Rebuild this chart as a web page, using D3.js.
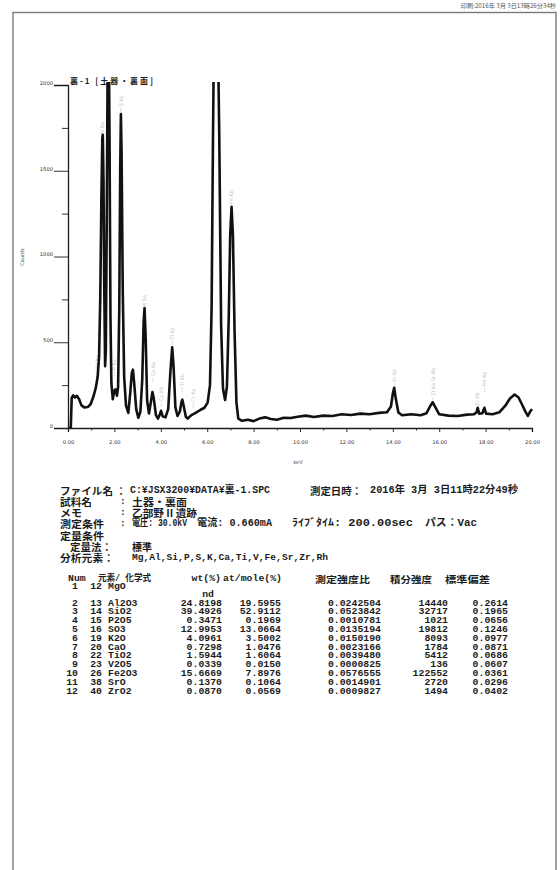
<!DOCTYPE html>
<html><head><meta charset="utf-8">
<script src="https://cdn.jsdelivr.net/npm/d3@7"></script>
<style>body{margin:0;background:#fff}</style>
</head><body>
<svg id="c" width="560" height="870"></svg>
<script>
// ---------- data ----------
const spectrumKeV = [0.00,0.12,0.16,0.22,0.30,0.38,0.48,0.58,0.70,0.85,0.98,1.10,1.20,1.28,1.34,1.39,1.44,1.48,1.50,1.53,1.56,1.60,1.63,1.67,1.71,1.75,1.79,1.83,1.87,1.93,1.99,2.04,2.11,2.16,2.21,2.25,2.28,2.31,2.36,2.42,2.50,2.60,2.68,2.75,2.80,2.86,2.94,3.03,3.12,3.20,3.26,3.30,3.35,3.41,3.49,3.57,3.64,3.70,3.79,3.88,3.96,4.01,4.08,4.20,4.32,4.41,4.49,4.55,4.63,4.72,4.82,4.89,4.93,4.99,5.08,5.16,5.32,5.50,5.70,5.88,6.02,6.12,6.19,6.25,6.30,6.45,6.52,6.60,6.68,6.77,6.85,6.93,6.99,7.05,7.11,7.18,7.26,7.34,7.50,7.75,8.00,8.25,8.50,8.75,9.00,9.30,9.60,9.90,10.25,10.60,11.00,11.40,11.80,12.20,12.60,13.00,13.40,13.75,13.92,14.00,14.06,14.13,14.24,14.40,14.80,15.20,15.45,15.60,15.72,15.85,16.00,16.40,16.80,17.20,17.50,17.61,17.66,17.72,17.86,17.95,18.02,18.30,18.60,18.85,19.05,19.25,19.42,19.56,19.70,19.82,19.92,20.00];
const spectrumCounts = [0,0,175,190,178,188,168,132,120,122,140,185,235,300,420,750,1350,1690,1710,1450,850,360,450,1200,2150,2400,1700,650,260,168,215,225,188,240,700,1500,1830,1600,800,300,130,88,200,320,340,250,110,60,95,280,620,700,520,160,85,150,210,170,75,55,80,100,68,62,110,320,470,360,120,70,95,150,165,125,65,55,75,88,105,118,148,250,700,1700,2400,2400,1700,600,230,163,240,650,1120,1290,1120,560,150,55,42,48,40,55,62,52,48,60,58,66,72,64,72,70,80,76,84,80,88,92,125,200,235,170,90,74,80,74,86,125,150,118,80,72,70,78,80,92,118,84,86,118,84,80,92,130,172,195,178,140,100,70,96,110];

const yTicks = [0, 500, 1000, 1500, 2000];
const yMinorTicks = [250, 750, 1250, 1750];
const xTicks = [0, 2, 4, 6, 8, 10, 12, 14, 16, 18, 20];
const xMinorTicks = [1, 3, 5, 7, 9, 11, 13, 15, 17, 19];

const peakNames = ["Mg Ka","Al Ka","P Ka","S Ka","K Ka","Ca Ka","Ca Kb","Ti Ka","Ti Kb","Cr Ka","Fe Kb","Sr Ka","Zr Ka Sr Kb","Zr Kb","Rh Ka"];
const peakKeV   = [1.25,1.49,2.01,2.28,3.30,3.66,4.01,4.50,4.93,5.40,7.06,14.08,15.73,17.66,17.95];
const peakLabelBase = [326,1700,326,1865,700,290,145,505,233,140,1294,257,175,117,233];

const chartTitle = "裏-1 [土器・裏面]";
const printStamp = "印刷:2016年 3月 3日13時26分34秒";

// table
const rowNum = ["1","2","3","4","5","6","7","8","9","10","11","12"];
const atomicNo = ["12","13","14","15","16","19","20","22","23","26","38","40"];
const compound = ["MgO","Al2O3","SiO2","P2O5","SO3","K2O","CaO","TiO2","V2O5","Fe2O3","SrO","ZrO2"];
const wtPct = ["nd","24.8198","39.4926","0.3471","12.9953","4.0961","0.7298","1.5944","0.0339","15.6669","0.1370","0.0870"];
const atMole = ["","19.5955","52.9112","0.1969","13.0664","3.5002","1.0476","1.6064","0.0150","7.8976","0.1064","0.0569"];
const intensityRatio = ["","0.0242504","0.0523842","0.0010781","0.0135194","0.0150190","0.0023166","0.0039480","0.0000825","0.0576555","0.0014901","0.0009827"];
const integralIntensity = ["","14440","32717","1021","19812","8093","1784","5412","136","122552","2720","1494"];
const stdDev = ["","0.2614","0.1965","0.0656","0.1246","0.0977","0.0871","0.0686","0.0607","0.0361","0.0296","0.0402"];

// ---------- drawing ----------
const svg = d3.select("#c");
const JP = "'Noto Sans CJK JP', sans-serif";
const MONO = "'Liberation Mono', 'DejaVu Sans Mono', 'Noto Sans CJK JP', monospace";
const INK = "#1c1c1c";

svg.append("rect").attr("width",560).attr("height",870).attr("fill","#fff");
svg.append("rect").attr("x",13).attr("y",12.5).attr("width",543).attr("height",880)
  .attr("fill","none").attr("stroke","#7a7a7a").attr("stroke-width",1.4);
svg.append("text").attr("x",556).attr("y",8).attr("text-anchor","end")
  .attr("font-family",JP).attr("font-size",6.2).attr("fill","#555").text(printStamp);

const x = d3.scaleLinear().domain([0,20]).range([68,532]);
const y = d3.scaleLinear().domain([0,2000]).range([428,85]);

svg.append("defs").append("clipPath").attr("id","clip")
  .append("rect").attr("x",66).attr("y",82).attr("width",470).attr("height",347);

// peak labels (faint)
const pl = svg.append("g").attr("fill","#c4c4c4").attr("font-family","'DejaVu Sans', sans-serif").attr("font-size",5);
peakNames.forEach((n,i)=>{
  const px = x(peakKeV[i]), py = y(peakLabelBase[i]) - 2;
  pl.append("text").attr("transform",`translate(${px+1.7},${py}) rotate(-90)`).text(n);
  pl.append("line").attr("x1",px).attr("x2",px).attr("y1",py+1).attr("y2",py+6)
    .attr("stroke","#cfcfcf").attr("stroke-width",0.7);
});

// spectrum
const pts = spectrumKeV.map((k,i)=>[k, spectrumCounts[i]]);
svg.append("path").datum(pts).attr("clip-path","url(#clip)")
  .attr("fill","none").attr("stroke","#111").attr("stroke-width",2.6).attr("stroke-linejoin","round")
  .attr("d", d3.line().x(d=>x(d[0])).y(d=>y(d[1])));

// axes
const yAx = svg.append("g").attr("transform","translate(68,0)")
  .call(d3.axisLeft(y).tickValues(yTicks).tickSize(14).tickPadding(1).tickFormat(d3.format("d")));
svg.append("g").attr("transform","translate(68,0)")
  .call(d3.axisLeft(y).tickValues(yMinorTicks).tickSize(6).tickFormat(""))
  .select(".domain").remove();
svg.append("g").attr("transform","translate(0,428)")
  .call(d3.axisBottom(x).tickValues(xTicks).tickSize(4).tickPadding(8).tickFormat(d3.format(".2f")));
svg.append("g").attr("transform","translate(0,428)")
  .call(d3.axisBottom(x).tickValues(xMinorTicks).tickSize(2.5).tickFormat(""))
  .select(".domain").remove();
svg.selectAll(".domain").attr("stroke",INK).attr("stroke-width",1.3);
svg.selectAll(".tick line").attr("stroke",INK).attr("stroke-width",0.9);
svg.selectAll(".tick text").attr("font-family","'DejaVu Sans', sans-serif").attr("font-size",5.2).attr("fill","#333");
yAx.selectAll(".tick text").attr("dy","-0.1em");

svg.append("text").attr("transform","translate(24,257) rotate(-90)").attr("text-anchor","middle")
  .attr("font-family","'DejaVu Sans', sans-serif").attr("font-size",5).attr("fill","#444").text("Counts");
svg.append("text").attr("x",298).attr("y",464).attr("text-anchor","middle")
  .attr("font-family","'DejaVu Sans', sans-serif").attr("font-size",5).attr("fill","#444").text("keV");
svg.append("text").attr("x",70).attr("y",83.5).attr("font-family",JP).attr("font-weight","bold")
  .attr("font-size",8).attr("fill",INK).attr("textLength",83).attr("lengthAdjust","spacing").text(chartTitle);

// ---------- text helper ----------
function t(xp, yp, s, o={}) {
  const e = svg.append("text").attr("x",xp).attr("y",yp).attr("dominant-baseline","central")
    .attr("font-family", o.font || MONO).attr("font-size", o.size || 9.4)
    .attr("font-weight","bold").attr("fill",INK).attr("text-anchor", o.anchor || "start").text(s);
  if (o.len) e.attr("textLength", o.len).attr("lengthAdjust","spacingAndGlyphs");
  return e;
}
// ---------- info block ----------
const J = {font:JP,size:10};
const L = [490, 501.3, 512.6, 523.9, 535.2, 546.5, 557.8];
t(60,L[0],"ファイル名",{...J,len:53}); t(116,L[0],"：",J);
t(130,L[0],"C:¥JSX3200¥DATA¥裏-1.SPC",{size:10,len:140});
t(310,L[0],"測定日時：",{...J,len:52});
t(370,L[0],"2016年 3月 3日11時22分49秒",{size:10,len:148});
t(60,L[1],"試料名",{...J,len:32}); t(120,L[1],":");
t(132,L[1],"土器・裏面",{...J,len:55});
t(60,L[2],"メモ",{...J,len:22}); t(120,L[2],":");
t(132,L[2],"乙部野 II 遺跡",{...J,len:65});
t(60,L[3],"測定条件",{...J,len:44}); t(120,L[3],":");
t(132,L[3],"電圧: 30.0kV",{size:10,len:55});
t(197,L[3],"電流: 0.660mA",{size:10,len:75});
t(292,L[3],"ﾗｲﾌﾞﾀｲﾑ: 200.00sec",{size:10,len:121});
t(425,L[3],"パス：Vac",{size:10,len:52});
t(60,L[4],"定量条件",{...J,len:44});
t(70,L[5],"定量法：",{...J,len:42});
t(132,L[5],"標準",{...J,len:20});
t(60,L[6],"分析元素：",{...J,len:54});
t(132,L[6],"Mg,Al,Si,P,S,K,Ca,Ti,V,Fe,Sr,Zr,Rh",{size:9.4,len:196});

// ---------- table ----------
const CW = 5.9;                       // character pitch of the printout
const tc = (xp, yp, s, anchor) => t(xp, yp, s, {size:8.6, anchor, len: s.length*CW});
const hY = 579;
tc(68,hY,"Num");
t(98,hY,"元素/ 化学式",{size:9,len:53});
tc(221,hY,"wt(%)","end");
tc(282,hY,"at/mole(%)","end");
t(315,hY,"測定強度比",{font:JP,size:9.5,len:55});
t(390,hY,"積分強度",{font:JP,size:9.5,len:42});
t(445,hY,"標準偏差",{font:JP,size:9.5,len:45});

const rowY = [587, 603.5, 612.3, 621.1, 629.9, 638.7, 647.5, 656.3, 665.1, 673.9, 682.7, 691.5];
rowNum.forEach((n,i)=>{
  const yy = rowY[i];
  tc(78,yy,n,"end");
  tc(102,yy,atomicNo[i],"end");
  tc(108,yy,compound[i],"start");
  if (i===0) { tc(214,595,wtPct[i],"end"); return; }
  tc(222,yy,wtPct[i],"end");
  tc(281,yy,atMole[i],"end");
  tc(381,yy,intensityRatio[i],"end");
  tc(448,yy,integralIntensity[i],"end");
  tc(508,yy,stdDev[i],"end");
});
</script>
</body></html>
